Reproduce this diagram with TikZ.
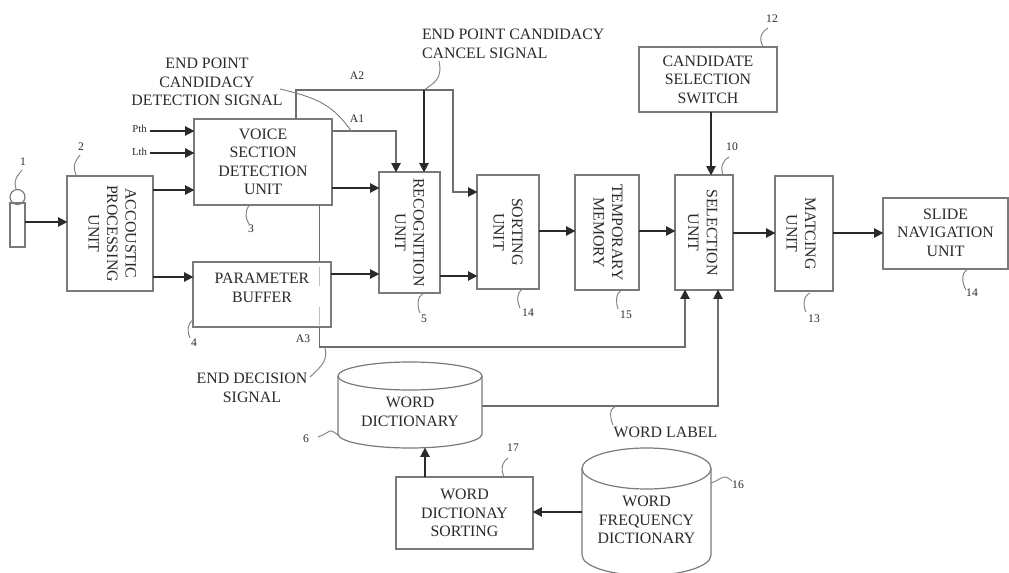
\documentclass[tikz,border=0pt]{standalone}
\usepackage{graphicx}
\usepackage{fontspec}
\setmainfont{Liberation Serif}
\usetikzlibrary{arrows.meta}
\definecolor{boxc}{HTML}{7A7A7A}
\definecolor{arrc}{HTML}{2A2A2A}
\definecolor{wirec}{HTML}{6E6E6E}
\definecolor{leadc}{HTML}{808080}
\definecolor{txtc}{HTML}{2A2A2A}
\newcommand\rottext[1]{\rotatebox[origin=c]{-90}{\vbox{\halign{\hfil##\hfil\cr #1\cr}}}}
\newcommand\hstack[1]{\vbox{\halign{\hfil##\hfil\cr #1\cr}}}
% name, x1, y1, x2, y2, text
\newcommand\bx[6]{\pgfmathsetmacro\cxx{(#2+#4)/2}\pgfmathsetmacro\cyy{(#3+#5)/2}%
  \pgfmathsetmacro\www{(#4-#2)*0.75}\pgfmathsetmacro\hhh{(#5-#3)*0.75}%
  \node[unitbox,minimum width=\www pt,minimum height=\hhh pt] (#1) at (\cxx,\cyy) {#6};}
\tikzset{
  unitbox/.style={draw=boxc,line width=1.05pt,fill=white,inner sep=0pt,outer sep=0pt,align=center,text=txtc,font=\fontsize{11.9}{13.9}\selectfont},
  cylbody/.style={draw=none,inner sep=0pt,outer sep=0pt,align=center,text=txtc,font=\fontsize{11.9}{13.9}\selectfont},
  cylline/.style={draw=boxc,line width=0.9pt},
  bigtip/.style={-{Triangle[length=7pt,width=7pt,color=arrc]},shorten >=-0.3pt},
  arr/.style={draw=arrc,line width=1.1pt,bigtip},
  grayarr/.style={draw=wirec,line width=1.05pt,bigtip},
  wire/.style={draw=wirec,line width=1.05pt},
  leader/.style={draw=leadc,line width=0.7pt},
  lab/.style={inner sep=0pt,outer sep=0pt,text=txtc,align=center,font=\fontsize{11.9}{13.9}\selectfont},
  num/.style={inner sep=0pt,outer sep=0pt,text=txtc,font=\fontsize{8.7}{10}\selectfont},
  thr/.style={inner sep=0pt,outer sep=0pt,text=txtc,font=\fontsize{8}{10}\selectfont}
}
\begin{document}
\begin{tikzpicture}[x=0.75pt,y=-0.75pt]
\clip (0,0) rectangle (1009,573);
\fill[white] (0,0) rectangle (1009,573);
% blocks
\bx{acc}{67}{176}{153}{291}{\kern3.5pt\rottext{ACCOUSTIC\cr PROCESSING\cr UNIT}}
\bx{voice}{194}{119}{332}{205}{\raisebox{-1.5pt}{\hstack{VOICE\cr SECTION\cr DETECTION\cr UNIT}}}
\bx{param}{193}{262}{331}{327}{\raisebox{10.5pt}{\hstack{PARAMETER\cr BUFFER}}}
\bx{recog}{379}{172}{440}{293}{\rottext{RECOGNITION\cr UNIT}}
\bx{sort}{477}{175}{539}{289}{\rottext{SORTING\cr UNIT}}
\bx{temp}{575}{175}{639}{290}{\kern1.5pt\rottext{TEMPORARY\cr MEMORY}}
\bx{sel}{675}{175}{733}{290}{\rottext{SELECTION\cr UNIT}\kern2pt}
\bx{match}{775}{176}{833}{291}{\rottext{MATCING\cr UNIT}\kern4.5pt}
\bx{slide}{883}{198}{1008}{269}{\raisebox{1.5pt}{\hstack{SLIDE\cr NAVIGATION\cr UNIT}}}
\bx{cand}{639}{47}{777}{112}{\raisebox{-3pt}{\hstack{CANDIDATE\cr SELECTION\cr SWITCH}}}
\bx{wds}{396}{477}{533}{549}{WORD\\DICTIONAY\\SORTING}
% microphone
\bx{mic}{10}{203}{25}{247}{}
\node[draw=boxc,line width=0.9pt,circle,minimum size=11.2pt,inner sep=0pt,outer sep=0pt] (micc) at (17.5,197) {};
% cylinders
\node[cylbody,minimum width=108pt,minimum height=64pt] (wd) at (410,412) {WORD\\DICTIONARY};
\draw[cylline] (410,376) ellipse [x radius=72,y radius=14];
\draw[cylline] (338,376) -- (338,434) arc[start angle=180,end angle=0,x radius=72,y radius=14] -- (482,376);
\node[cylbody,minimum width=96.75pt,minimum height=80pt] (wf) at (646.5,520) {WORD\\FREQUENCY\\DICTIONARY};
\draw[cylline] (646.5,468.5) ellipse [x radius=64.5,y radius=20.5];
\draw[cylline] (582,468.5) -- (582,555) arc[start angle=180,end angle=0,x radius=64.5,y radius=20.5] -- (711,468.5);
% threshold labels
\node[thr] (pth) at (139.5,129) {Pth};
\node[thr] (lth) at (139.5,152) {Lth};
% junction coordinates
\coordinate (a2t) at (296,90);
\coordinate (a2r) at (453,90);
\coordinate (a2b) at (453,192);
\coordinate (cj) at (424,90);
\coordinate (a1r) at (396,131);
\coordinate (a3c) at (319.5,347);
\coordinate (a3d) at (685,347);
\coordinate (wlc) at (718,406);
% arrows
\draw[arr] (mic.east |- 0,222) -- (acc.west |- 0,222);
\draw[arr] (pth.east |- 0,131) ++(3,0) -- (voice.west |- 0,131);
\draw[arr] (lth.east |- 0,153) ++(3,0) -- (voice.west |- 0,153);
\draw[arr] (acc.east |- 0,190) -- (voice.west |- 0,190);
\draw[arr] (acc.east |- 0,277) -- (param.west |- 0,277);
\draw[arr] (voice.east |- 0,188) -- (recog.west |- 0,188);
\draw[arr] (param.east |- 0,274) -- (recog.west |- 0,274);
\draw[arr] (recog.east |- 0,276) -- (sort.west |- 0,276);
\draw[arr] (sort.east |- 0,231) -- (temp.west |- 0,231);
\draw[arr] (temp.east |- 0,231) -- (sel.west |- 0,231);
\draw[arr] (sel.east |- 0,233) -- (match.west |- 0,233);
\draw[arr] (match.east |- 0,233) -- (slide.west |- 0,233);
\draw[arr] (711,0 |- cand.south) -- (711,0 |- sel.north);
% signal lines
\draw[grayarr] (voice.east |- a1r) -- (a1r) -- (396,0 |- recog.north);
\draw[grayarr] (296,0 |- voice.north) -- (a2t) -- (a2r) -- (a2b) -- (sort.west |- a2b);
\draw[arr] (cj) -- (424,0 |- recog.north);
\draw[wire] (319.5,0 |- voice.south) -- (319.5,0 |- param.north);
\draw[draw=black!25,line width=0.8pt,dash pattern=on 14pt off 16pt] (319.5,267) -- (319.5,325);
\draw[grayarr] (319.5,0 |- param.south) -- (a3c) -- (a3d) -- (685,0 |- sel.south);
\draw[grayarr] (wd.east |- wlc) -- (wlc) -- (718,0 |- sel.south);
\draw[arr] (425,0 |- wds.north) -- (425,448);
\draw[arr] (wf.west |- 0,512) -- (wds.east |- 0,512);
% text labels
\node[lab] (epd) at (207,82) {END POINT\\CANDIDACY\\DETECTION SIGNAL};
\node[lab,align=left,anchor=west] (epc) at (422,44) {END POINT CANDIDACY\\CANCEL SIGNAL};
\node[lab] (eds) at (252,388) {END DECISION\\SIGNAL};
\node[lab] (wlb) at (665.5,432) {WORD LABEL};
\node[num] (na1) at (357,119) {A1};
\node[num] (na2) at (357,76) {A2};
\node[num] (na3) at (303,339) {A3};
\node[num] (n1) at (23,162) {1};
\node[num] (n2) at (81,147) {2};
\node[num] (n3) at (251,229) {3};
\node[num] (n4) at (194,343) {4};
\node[num] (n5) at (424,319) {5};
\node[num] (n14a) at (528,313) {14};
\node[num] (n15) at (626,315) {15};
\node[num] (n10) at (732,147) {10};
\node[num] (n12) at (772,19) {12};
\node[num] (n13) at (814,319) {13};
\node[num] (n14b) at (972,293) {14};
\node[num] (n17) at (513,448) {17};
\node[num] (n16) at (738,485) {16};
\node[num] (n6) at (306,439) {6};
% leaders
\draw[leader] (16,189) .. controls (13,178) and (18,176) .. (22,170);
\draw[leader] (76,175) .. controls (72,165) and (76,160) .. (80,155);
\draw[leader] (249,205.5) .. controls (244,213) and (246,219) .. (249,224);
\draw[leader] (193,320) .. controls (187,324) and (187,332) .. (190,338);
\draw[leader] (423,293.5) .. controls (417,297) and (417,306) .. (420,313);
\draw[leader] (522,289.5) .. controls (516,294) and (517,302) .. (520,308);
\draw[leader] (621,290.5) .. controls (615,294) and (616,303) .. (618,309);
\draw[leader] (723,175) .. controls (720,167) and (723,160) .. (729,157);
\draw[leader] (763,46.5) .. controls (758,38) and (762,31) .. (768,28);
\draw[leader] (810,293) .. controls (803,296) and (803,306) .. (806,312);
\draw[leader] (967,269.5) .. controls (961,273) and (962,283) .. (966,290);
\draw[leader] (504,476.5) .. controls (500,468) and (503,461) .. (508,458);
\draw[leader] (711,483) .. controls (718,481) and (722,476) .. (726,477) .. controls (729,478) and (730,480) .. (732,481);
\draw[leader] (318,437) .. controls (325,435) and (329,430) .. (332,431) .. controls (335,432) and (337,435) .. (339,436);
\draw[leader] (325,347.5) .. controls (328,360) and (322,366) .. (310,377);
\draw[leader] (615,406.5) .. controls (609,409) and (610,418) .. (613,425);
\draw[leader] (425,89.5) .. controls (433,83) and (443,80) .. (439,61);
\draw[leader] (280,89) .. controls (318,98) and (333,105) .. (352,132);
\end{tikzpicture}
\end{document}
